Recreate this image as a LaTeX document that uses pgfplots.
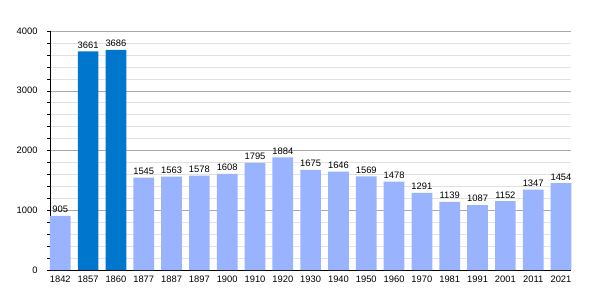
\documentclass[border=0pt]{standalone}
\usepackage{pgfplots}
\pgfplotsset{compat=1.18}
\usepackage{fontspec}
\setmainfont{Liberation Sans}
\definecolor{lightbar}{RGB}{153,179,255}
\definecolor{darkbar}{RGB}{0,119,204}
\definecolor{majgrid}{RGB}{170,170,170}
\definecolor{mingrid}{RGB}{225,225,225}
\begin{document}
\begin{tikzpicture}[x=1bp,y=1bp]
\begin{axis}[
  at={(50bp,30bp)}, anchor=south west,
  scale only axis, width=521bp, height=239bp,
  xmin=-0.37, xmax=18.36, ymin=0, ymax=4000,
  axis x line*=bottom, axis y line*=left,
  axis line style={black, line width=0.8pt, -},
  xtick={0,...,18},
  xticklabels={1842,1857,1860,1877,1887,1897,1900,1910,1920,1930,1940,1950,1960,1970,1981,1991,2001,2011,2021},
  x tick style={draw=none},
  ytick={0,1000,2000,3000,4000},
  minor ytick={200,400,...,3800},
  y tick style={black, line width=0.5pt},
  tick align=outside, major tick length=3bp, minor tick length=3bp,
  ymajorgrids, yminorgrids,
  major grid style={majgrid, line width=0.5pt},
  minor grid style={mingrid, line width=0.5pt},
  tick label style={font=\fontsize{9.4}{11}\selectfont},
  /pgf/number format/assume math mode=true,
  /pgf/number format/1000 sep={},
  yticklabel style={xshift=-6bp},
  xticklabel style={yshift=1bp},
  ybar, bar width=20.7bp, bar shift=0pt,
  nodes near coords,
  every node near coord/.append style={font=\fontsize{9.4}{11}\selectfont, black, yshift=-0.5bp},
  clip=false,
]
\addplot[fill=lightbar, draw=none] coordinates {
(0,905) (3,1545) (4,1563) (5,1578) (6,1608) (7,1795) (8,1884) (9,1675) (10,1646) (11,1569) (12,1478) (13,1291) (14,1139) (15,1087) (16,1152) (17,1347) (18,1454)};
\addplot[fill=darkbar, draw=none] coordinates {(1,3661) (2,3686)};
\end{axis}
\pgfresetboundingbox
\path (0,0) rectangle (600,300);
\end{tikzpicture}
\end{document}
